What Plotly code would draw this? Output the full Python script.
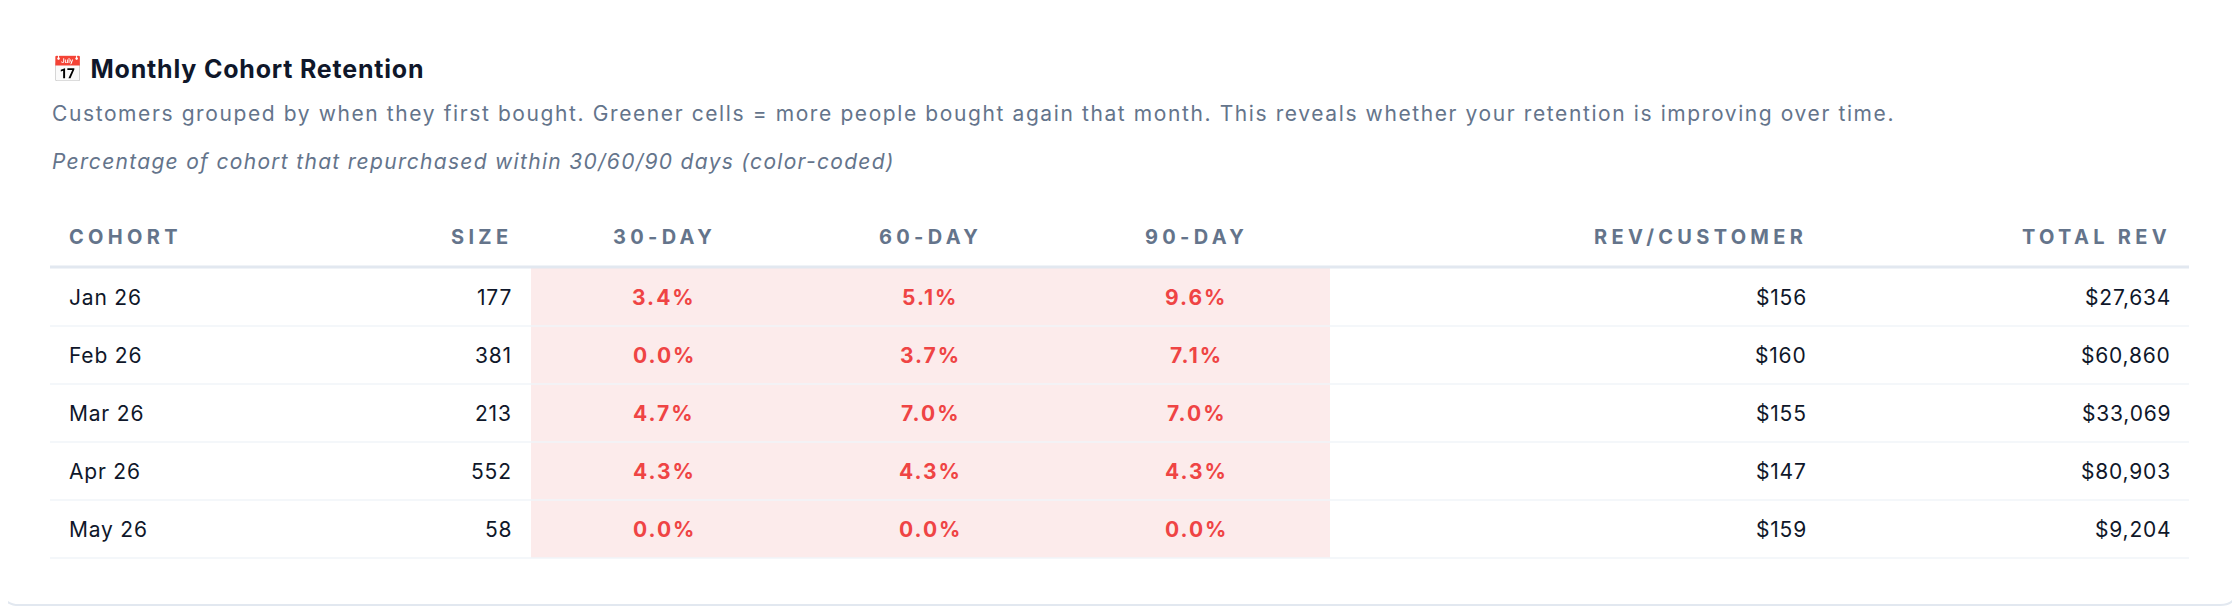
import plotly.graph_objects as go

cohorts = ["Jan 26", "Feb 26", "Mar 26", "Apr 26", "May 26"]
sizes = [177, 381, 213, 552, 58]
d30 = [3.4, 0.0, 4.7, 4.3, 0.0]
d60 = [5.1, 3.7, 7.0, 4.3, 0.0]
d90 = [9.6, 7.1, 7.0, 4.3, 0.0]
rev_per_customer = [156, 160, 155, 147, 159]
total_rev = [27634, 60860, 33069, 80903, 9204]
headers = ["COHORT", "SIZE", "30-DAY", "60-DAY", "90-DAY", "REV/CUSTOMER", "TOTAL REV"]

W, H = 2240, 608
OFF = 8
FONT = "Inter, Roboto, sans-serif"
fig = go.Figure()
shapes, ann = [], []

def sp(t, px):
    return f'<span style="letter-spacing:{px}px">{t}</span>'

r = 17; x0, y0, x1, y1 = 2, 2, 2237, 605
path = (f"M{x0+r},{y0} L{x1-r},{y0} Q{x1},{y0} {x1},{y0+r} L{x1},{y1-r} Q{x1},{y1} {x1-r},{y1} "
        f"L{x0+r},{y1} Q{x0},{y1} {x0},{y1-r} L{x0},{y0+r} Q{x0},{y0} {x0+r},{y0} Z")
shapes.append(dict(type="path", path=path, xref="x", yref="y", line=dict(color="#e2e8f0", width=2), fillcolor="white", layer="below"))

ann.append(dict(x=50, y=69, text=sp("<b>📅 Monthly Cohort Retention</b>", 0.8), xanchor="left", yanchor="middle", showarrow=False,
                font=dict(family=FONT, size=25, color="#0f172a")))
ann.append(dict(x=50, y=113, text=sp("Customers grouped by when they first bought. Greener cells = more people bought again that month. This reveals whether your retention is improving over time.", 1.6),
                xanchor="left", yanchor="middle", showarrow=False, font=dict(family=FONT, size=21, color="#64748b")))
ann.append(dict(x=50, y=161, text=sp("<i>Percentage of cohort that repurchased within 30/60/90 days (color-coded)</i>", 1.3),
                xanchor="left", yanchor="middle", showarrow=False, font=dict(family=FONT, size=21, color="#64748b")))

tx0, tx1 = 50, 2189
head_y, head_line = 237, 267
row_h = 58
band = [531, 797, 1063, 1330]
col_x = [(67, "left"), (514, "right"), (664, "center"), (930, "center"), (1196, "center"), (1809, "right"), (2173, "right")]

for (x, a), h in zip(col_x, headers):
    ann.append(dict(x=x, y=head_y, text=sp(f"<b>{h}</b>", 4.3), xanchor=a, yanchor="middle", showarrow=False,
                    font=dict(family=FONT, size=20, color="#64748b")))
shapes.append(dict(type="line", x0=tx0, x1=tx1, y0=head_line, y1=head_line, xref="x", yref="y", line=dict(color="#e2e8f0", width=3)))

for i, c in enumerate(cohorts):
    top = head_line + 1 + i * row_h
    yc = top + row_h / 2
    for k in range(3):
        shapes.append(dict(type="rect", x0=band[k], x1=band[k+1], y0=top, y1=top + row_h, xref="x", yref="y",
                           fillcolor="#fcebeb", line=dict(width=0), layer="below"))
    shapes.append(dict(type="line", x0=tx0, x1=tx1, y0=top + row_h, y1=top + row_h, xref="x", yref="y",
                       line=dict(color="#f1f5f9", width=1.5)))
    vals = [c, f"{sizes[i]}", f"<b>{d30[i]:.1f}%</b>", f"<b>{d60[i]:.1f}%</b>", f"<b>{d90[i]:.1f}%</b>",
            f"${rev_per_customer[i]}", f"${total_rev[i]:,}"]
    for j, ((x, a), v) in enumerate(zip(col_x, vals)):
        red = 2 <= j <= 4
        ann.append(dict(x=x, y=yc, text=sp(v, 2 if red else 0.8), xanchor=a, yanchor="middle", showarrow=False,
                        font=dict(family=FONT, size=21, color="#ef4444" if red else "#0f172a")))

fig.update_layout(width=W, height=H, margin=dict(l=0, r=0, t=0, b=0), paper_bgcolor="white", plot_bgcolor="white",
                  xaxis=dict(range=[OFF, W + OFF], visible=False, fixedrange=True),
                  yaxis=dict(range=[H + OFF, OFF], visible=False, fixedrange=True),
                  shapes=shapes, annotations=ann, showlegend=False)
fig.write_html("out.html", config={"displayModeBar": False})
